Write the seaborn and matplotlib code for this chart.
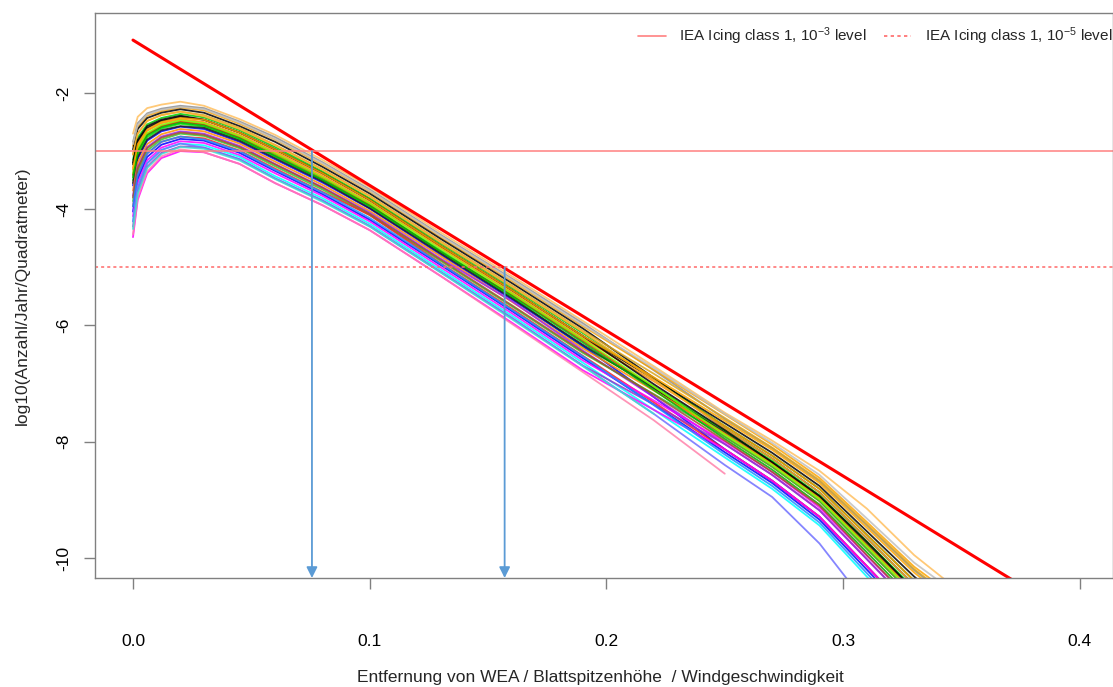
import matplotlib
matplotlib.use("Agg")
import matplotlib.pyplot as plt
import seaborn as sns
import pandas as pd
from matplotlib.lines import Line2D

nan = float("nan")

# ---------------- data ----------------
sim_x = [0.0, 0.002, 0.006, 0.012, 0.02, 0.03, 0.045, 0.06, 0.08, 0.10,
         0.13, 0.16, 0.19, 0.22, 0.25, 0.27, 0.29, 0.31, 0.33, 0.35]

sim_runs = [
    [-2.70, -2.41, -2.26, -2.20, -2.15, -2.22, -2.45, -2.72, -3.15, -3.62, -4.40, -5.15, -5.92, -6.70, -7.50, -7.98, -8.50, -9.15, -9.95, -10.60],
    [-2.84, -2.52, -2.35, -2.27, -2.22, -2.26, -2.49, -2.76, -3.19, -3.66, -4.44, -5.19, -5.96, -6.77, -7.61, -8.11, -8.68, -9.44, -10.21, -10.85],
    [-2.91, -2.58, -2.39, -2.31, -2.25, -2.30, -2.53, -2.80, -3.23, -3.69, -4.48, -5.23, -6.01, -6.76, -7.53, -8.05, -8.62, -9.38, -10.15, -10.75],
    [-2.97, -2.62, -2.43, -2.34, -2.28, -2.34, -2.57, -2.84, -3.27, -3.73, -4.51, -5.27, -6.05, -6.90, -7.77, -8.29, -8.87, -9.66, -10.46, -11.15],
    [-3.06, -2.70, -2.48, -2.38, -2.32, -2.38, -2.60, -2.89, -3.31, -3.77, -4.55, -5.31, -6.09, -6.83, -7.59, -8.10, -8.66, -9.42, -10.19, -10.82],
    [-3.15, -2.77, -2.54, -2.43, -2.36, -2.42, -2.64, -2.93, -3.35, -3.81, -4.59, -5.35, -6.13, -6.92, -7.73, -8.24, -8.81, -9.60, -10.39, -11.06],
    [-3.23, -2.84, -2.60, -2.48, -2.41, -2.46, -2.68, -2.97, -3.38, -3.84, -4.63, -5.39, -6.18, -6.92, -7.68, -8.19, -8.76, -9.54, -10.32, -10.98],
    [-3.32, -2.91, -2.65, -2.52, -2.45, -2.50, -2.72, -3.01, -3.42, -3.88, -4.66, -5.43, -6.22, -6.96, -7.73, -8.24, -8.81, -9.60, -10.39, -11.06],
    [-3.41, -2.98, -2.71, -2.57, -2.49, -2.54, -2.76, -3.05, -3.46, -3.92, -4.74, -5.47, -6.26, -7.07, -7.91, -8.43, -9.02, -9.84, -10.66, -11.39],
    [-3.50, -3.05, -2.76, -2.61, -2.53, -2.58, -2.80, -3.09, -3.50, -3.95, -4.74, -5.51, -6.36, -7.05, -7.82, -8.33, -8.92, -9.72, -10.52, -11.23],
    [-3.59, -3.13, -2.82, -2.66, -2.58, -2.62, -2.84, -3.14, -3.54, -3.99, -4.78, -5.55, -6.35, -7.23, -8.13, -8.67, -9.29, -10.14, -11.00, -11.81],
    [-3.55, -3.10, -2.80, -2.64, -2.57, -2.60, -2.82, -3.12, -3.52, -3.98, -4.76, -5.53, -6.33, -7.08, -7.84, -8.36, -8.95, -9.76, -10.56, -11.28],
    [-3.68, -3.20, -2.88, -2.71, -2.62, -2.66, -2.87, -3.18, -3.58, -4.03, -4.81, -5.59, -6.39, -7.12, -7.86, -8.38, -8.97, -9.78, -10.59, -11.31],
    [-3.77, -3.27, -2.93, -2.75, -2.66, -2.70, -2.91, -3.22, -3.62, -4.06, -4.85, -5.58, -6.43, -7.23, -8.04, -8.57, -9.18, -10.02, -10.86, -11.64],
    [-3.86, -3.34, -2.99, -2.80, -2.70, -2.74, -2.95, -3.26, -3.66, -4.10, -4.89, -5.67, -6.47, -7.18, -7.91, -8.43, -9.02, -9.84, -10.66, -11.39],
    [-3.95, -3.41, -3.04, -2.84, -2.75, -2.78, -2.99, -3.30, -3.70, -4.10, -4.93, -5.71, -6.52, -7.32, -8.13, -8.67, -9.29, -10.14, -11.00, -11.81],
    [-4.04, -3.48, -3.10, -2.89, -2.79, -2.82, -3.03, -3.34, -3.74, -4.18, -4.96, -5.75, -6.56, -7.36, -8.18, -8.71, -9.34, -10.20, -11.06, -11.89],
    [-4.12, -3.55, -3.16, -2.94, -2.83, -2.86, -3.07, -3.38, -3.77, -4.21, -5.00, -5.79, -6.60, -7.29, -8.00, -8.52, -9.13, -9.96, -10.79, -11.56],
    [-4.21, -3.63, -3.21, -2.98, -2.87, -2.90, -3.10, -3.43, -3.81, -4.25, -5.04, -5.83, -6.64, -7.45, -8.27, -8.81, -9.44, -10.32, -11.20, -12.05],
    [-4.30, -3.70, -3.27, -3.03, -2.92, -2.94, -3.14, -3.47, -3.85, -4.29, -5.08, -5.87, -6.69, -7.36, -8.04, -8.57, -9.18, -10.02, -10.86, -11.64],
    [-4.48, -3.84, -3.38, -3.12, -3.00, -3.02, -3.22, -3.55, -3.93, -4.36, -5.15, -5.95, -6.77, -7.45, -8.13, -8.67, -9.29, -10.14, -11.00, -11.81],
    [-4.43, -3.80, -3.35, -3.09, -2.97, -3.02, -3.22, -3.55, -3.93, -4.36, -5.15, -5.97, -6.80, -7.63, -8.55, nan, nan, nan, nan, nan],
    [-4.21, -3.63, -3.21, -2.98, -2.87, -2.94, -3.14, -3.47, -3.85, -4.29, -5.08, -5.87, -6.69, -7.52, -8.40, -8.95, -9.75, -10.80, -11.60, -12.40],
    [-2.88, -2.55, -2.37, -2.29, -2.24, -2.28, -2.51, -2.79, -3.21, -3.68, -4.46, -5.21, -5.99, -6.73, -7.52, -8.02, -8.57, -9.32, -10.08, -10.68],
    [-3.38, -2.95, -2.69, -2.55, -2.47, -2.52, -2.74, -3.04, -3.45, -3.90, -4.69, -5.45, -6.24, -7.05, -7.88, -8.40, -8.99, -9.80, -10.62, -11.34],
    [-4.34, -3.73, -3.29, -3.05, -2.93, -2.96, -3.16, -3.48, -3.87, -4.30, -5.09, -5.89, -6.70, -7.52, nan, nan, nan, nan, nan, nan],
    [-3.06, -2.70, -2.48, -2.38, -2.32, -2.40, -2.62, -2.90, -3.32, -3.78, -4.57, -5.33, -6.11, -6.93, -7.77, -8.29, -8.87, -9.66, -10.46, -11.15],
    [-3.20, -2.81, -2.57, -2.46, -2.39, -2.46, -2.68, -2.97, -3.38, -3.84, -4.63, -5.39, -6.18, -7.01, -7.80, -8.35, -8.93, -9.72, -10.55, -11.25],
    [-3.45, -3.01, -2.73, -2.59, -2.51, -2.56, -2.78, -3.08, -3.49, -3.94, -4.72, -5.49, -6.29, -7.11, -7.95, -8.48, -9.08, -9.90, -10.73, -11.48],
    [-3.80, -3.30, -2.95, -2.77, -2.68, -2.72, -2.93, -3.23, -3.63, -4.08, -4.87, -5.65, -6.45, -7.19, -7.98, -8.52, -9.10, -9.95, -10.78, -11.52],
    [-3.95, -3.41, -3.04, -2.84, -2.75, -2.80, -3.00, -3.32, -3.71, -4.15, -4.94, -5.73, -6.53, -7.37, -8.22, -8.76, -9.39, -10.26, -11.13, -11.97],
    [-3.29, -2.88, -2.63, -2.50, -2.43, -2.46, -2.68, -2.97, -3.38, -3.84, -4.63, -5.39, -6.18, -6.89, -7.64, -8.14, -8.71, -9.48, -10.25, -10.90],
]

sim_colors = [
    "#FFC060", "#909090", "#FFA500", "#000000", "#DAA520", "#00CD00",
    "#000000", "#FF8C00", "#FF0000", "#00EE00", "#0000FF", "#202020",
    "#FF8C00", "#A020F0", "#32CD32", "#FF2020", "#0000FF", "#FF00FF",
    "#00FFFF", "#9932CC", "#FF00FF", "#FF82AB", "#7070FF", "#C0C0C0",
    "#7CFC00", "#40E0D0", "#FFB030", "#000000", "#00B000", "#A0522D",
    "#1E90FF", "#FFA500",
]

iea_x = [0.0, 0.40]
iea_y = [-1.09, -11.09]

level_values = [-3, -5]
level_labels = ["IEA Icing class 1, 10$^{-3}$ level", "IEA Icing class 1, 10$^{-5}$ level"]

arrow_x = [0.0756, 0.157]
arrow_top = [-3, -5]

x_ticks = [0.0, 0.1, 0.2, 0.3, 0.4]
x_tick_labels = ["0.0", "0.1", "0.2", "0.3", "0.4"]
y_ticks = [-2, -4, -6, -8, -10]
y_tick_labels = ["-2", "-4", "-6", "-8", "-10"]

x_label = "Entfernung von WEA / Blattspitzenhöhe  / Windgeschwindigkeit"
y_label = "log10(Anzahl/Jahr/Quadratmeter)"

# ---------------- figure ----------------
sns.set_style("white")
plt.rcParams["font.family"] = ["Liberation Sans", "DejaVu Sans"]
plt.rcParams["mathtext.fontset"] = "custom"
plt.rcParams["mathtext.rm"] = "Liberation Sans"
plt.rcParams["mathtext.default"] = "regular"

W, H = 1113, 687
fig = plt.figure(figsize=(W / 100, H / 100), dpi=100)
ax = fig.add_axes([95 / W, 1 - 578 / H, 1 - 95 / W, (578 - 13) / H])

rows = []
for i, run in enumerate(sim_runs):
    for xv, yv in zip(sim_x, run):
        rows.append({"run": i, "x": xv, "y": yv})
df = pd.DataFrame(rows).dropna()

sns.lineplot(data=df, x="x", y="y", hue="run", palette=sim_colors,
             estimator=None, legend=False, linewidth=1.3, alpha=0.85, ax=ax)

sns.lineplot(x=iea_x, y=iea_y, color="#FF0000", linewidth=2.2, ax=ax)

ax.axhline(level_values[0], color="#FF8080", linewidth=1.1)
ax.axhline(level_values[1], color="#FF6A6A", linewidth=1.1, linestyle=(0, (2, 2)))

ymin, ymax = -10.344, -0.624
for xa, ya in zip(arrow_x, arrow_top):
    ax.annotate("", xy=(xa, ymin), xytext=(xa, ya),
                arrowprops=dict(arrowstyle="-|>", color="#5B9BD5", lw=1.3,
                                mutation_scale=16, shrinkA=0, shrinkB=0))

ax.set_xlim(-0.01605, 0.4140)
ax.set_ylim(ymin, ymax)

ax.set_xticks(x_ticks)
ax.set_xticklabels(x_tick_labels, fontsize=12.5)
ax.set_yticks(y_ticks)
ax.set_yticklabels(y_tick_labels, fontsize=12.5, rotation=90, va="center")

ax.tick_params(axis="both", which="major", direction="out", length=8, width=1,
               color="#808080", labelcolor="#000000", bottom=True, left=True)
ax.tick_params(axis="x", pad=32)
ax.tick_params(axis="y", pad=9)

for sp in ax.spines.values():
    sp.set_visible(True)
    sp.set_color("#808080")
    sp.set_linewidth(1.0)

ax.set_xlabel(x_label, fontsize=12.5)
ax.xaxis.set_label_coords(0.4965, -0.163)
ax.set_ylabel(y_label, fontsize=12.5)
ax.yaxis.set_label_coords(-0.064, 0.5)

handles = [Line2D([], [], color="#FF8080", lw=1.2),
           Line2D([], [], color="#FF6A6A", lw=1.2, linestyle=(0, (2, 2)))]
ax.legend(handles, level_labels, loc="center right", bbox_to_anchor=(0.9995, 0.959),
          ncol=2, frameon=False, fontsize=11, handlelength=1.8, handletextpad=0.9,
          columnspacing=1.1, borderpad=0, borderaxespad=0)

fig.savefig("out.png", dpi=100)
